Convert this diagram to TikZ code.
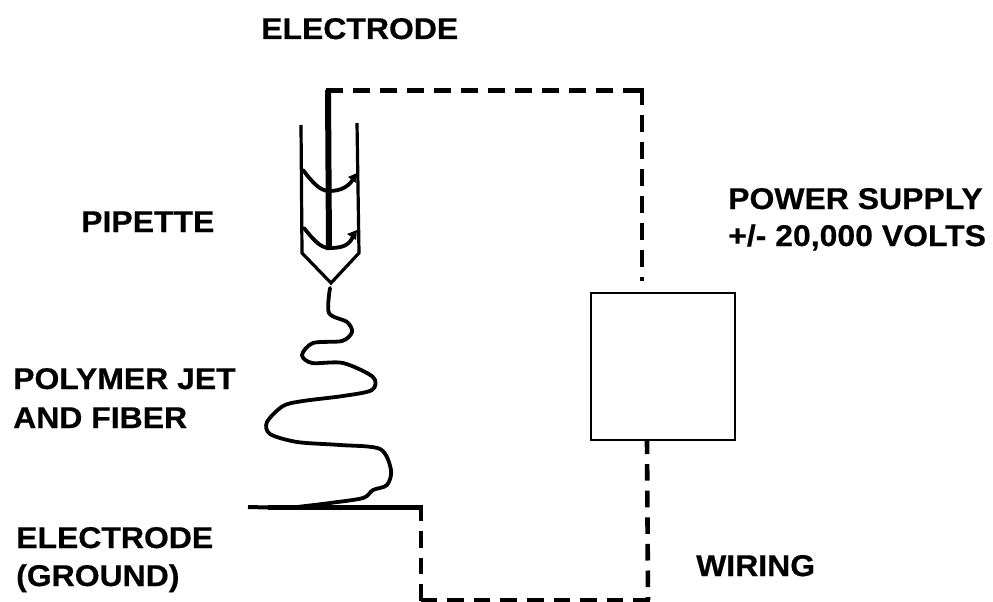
\documentclass[tikz,border=0pt]{standalone}
\usepackage{fontspec}
\setmainfont{Liberation Sans}
\newfontfamily\lblfont[FakeStretch=1.065,BoldFeatures={FakeStretch=1.065,FakeBold=0.5}]{Liberation Sans}
\begin{document}
\begin{tikzpicture}[x=1pt,y=-1pt,
  lbl/.style={font=\lblfont\fontsize{30}{32}\selectfont\bfseries,inner sep=0pt,anchor=base west,text=black},
  wire/.style={line width=4.6pt,dash pattern=on 17pt off 10pt,black},
  wireb/.style={line width=4.6pt,dash pattern=on 16.6pt off 10pt,black},
  glass/.style={line width=3.2pt,black},
  stem/.style={line width=5.6pt,black},
  strand/.style={line width=3.8pt,black,line cap=round}]
\useasboundingbox (0,0) rectangle (993,602);
\fill[white] (0,0) rectangle (993,602);
\node[lbl] (t1) at (261,39) {ELECTRODE};
\node[lbl] (t2) at (81,232) {PIPETTE};
\node[lbl] (t3) at (728,209) {POWER SUPPLY};
\node[lbl] (t4) at (728,246) {+/- 20,000 VOLTS};
\node[lbl] (t5) at (13,389) {POLYMER JET};
\node[lbl] (t6) at (13,428) {AND FIBER};
\node[lbl] (t7) at (16,548) {ELECTRODE};
\node[lbl] (t8) at (16,586) {(GROUND)};
\node[lbl] (t9) at (696,576) {WIRING};
\node[draw,line width=2pt,minimum width=144pt,minimum height=147pt,inner sep=0pt] (box) at (663,366.5) {};
\coordinate (etop) at (326,90.5);
\coordinate (ebot) at (329,250);
\coordinate (glt) at (248,507);
\coordinate (gl) at (268,507.5);
\coordinate (gr) at (421,507.5);
\coordinate (c1) at (640,90.5);
\coordinate (c1b) at (642,88);
\coordinate (c1e) at (642,281);
\coordinate (c2a) at (647,440);
\coordinate (c2) at (648,600);
\coordinate (c2r) at (650,600);
\coordinate (c3) at (421,600);
\coordinate (c3b) at (421,602);
\draw[stem,line width=6pt] (328,90) -- (ebot);
\draw[wire] (etop) -- (c1);
\draw[wire] (c1b) -- (c1e);
\draw[wireb,dash phase=2.5pt] (c2a) -- (c2);
\draw[wireb] (c2r) -- (c3);
\draw[wireb] (gr) ++(0,-3) -- (c3b);
\draw[stem] (gl) -- (gr);
\draw[line width=4pt] (glt) -- (gl);
\draw[glass,line join=miter] (301,125) -- (302,253) -- (331,283) -- (359,253) -- (357,123);
\draw[strand] (303,170) .. controls (312,182) and (320,191) .. (329,191) .. controls (342,191) and (350,186) .. (355,176);
\draw[strand] (304,228) .. controls (312,238) and (320,248) .. (329,248) .. controls (342,248) and (350,246) .. (354,234);
\fill (348,177) -- (357,173) -- (356,183) -- cycle;
\fill (347,234) -- (357,230) -- (356,240) -- cycle;
\draw[strand] plot[smooth,tension=0.5] coordinates {(330,288) (329,313) (347,322) (352,332) (342,341) (313,343) (302,355) (312,363) (343,363) (373,377) (372,390) (343,396) (303,401) (283,406) (267,422) (270,434) (297,442) (340,445) (380,449) (391,470) (387,485) (373,490) (363,498) (330,503) (297,507)};
\end{tikzpicture}
\end{document}
